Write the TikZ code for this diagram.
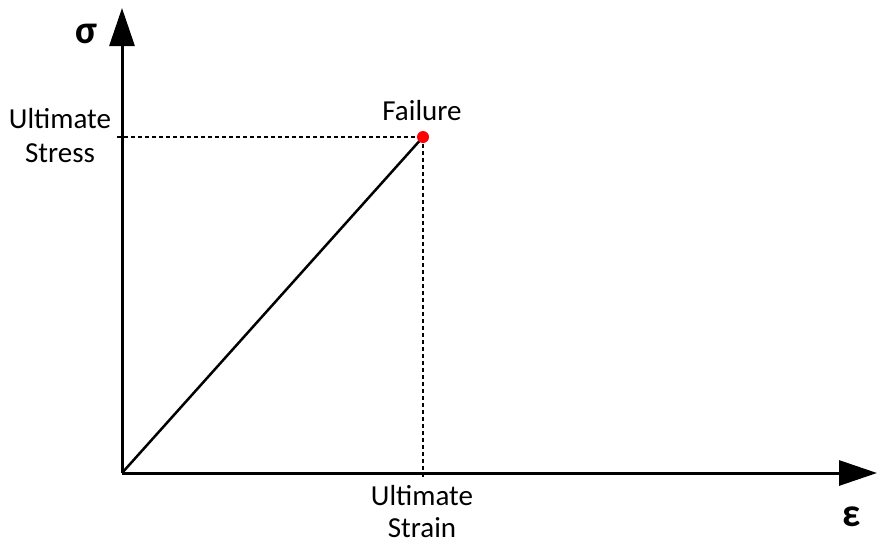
\documentclass[tikz,border=0pt]{standalone}
\usepackage{fontspec}
\setmainfont{Carlito}
\usetikzlibrary{arrows.meta}
\begin{document}
\begin{tikzpicture}[x=1pt,y=-1pt,
  lbl/.style={font=\fontsize{29}{34}\selectfont, align=center, inner sep=0pt},
  greek/.style={font=\fontsize{40}{40}\selectfont\bfseries, inner sep=0pt},
  axis/.style={line width=3pt, -{Triangle[length=38pt,width=25pt]}},
  guide/.style={line width=2pt, dash pattern=on 4pt off 3pt}]
\useasboundingbox (0,0) rectangle (878,544);
\coordinate (O) at (122,473);
\coordinate (ytip) at (122,8);
\coordinate (xtip) at (877,473);
\coordinate (F) at (423,137);
\coordinate (ys) at (117,137);
\coordinate (xs) at (423,477);
\draw[axis] (O) -- (ytip);
\draw[axis] (O) -- (xtip);
\draw[guide] (ys) -- (F);
\draw[guide] (F) -- (xs);
\draw[line width=2.5pt] (O) -- (F);
\fill[red] (F) circle (6pt);
\node[greek] (sig) at (86,34) {σ};
\node[greek] (eps) at (852,517) {ε};
\node[lbl, anchor=base] (fail) at (422,120) {Failure};
\node[lbl, anchor=base] (us1) at (60,128) {Ultimate};
\node[lbl, anchor=base] (us2) at (60,162) {Stress};
\node[lbl, anchor=base] (ue1) at (422,505) {Ultimate};
\node[lbl, anchor=base] (ue2) at (422,537) {Strain};
\end{tikzpicture}
\end{document}
